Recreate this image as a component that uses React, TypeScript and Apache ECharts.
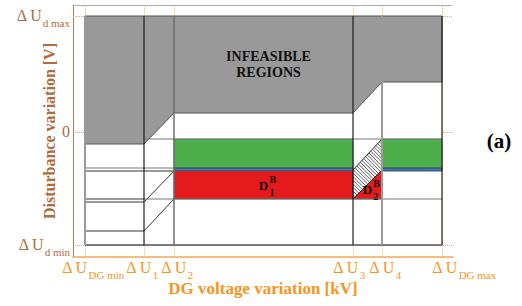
import React, { useEffect, useRef } from 'react';
import * as echarts from 'echarts';

// ---- data (axis units) ----
const xBreaks = [12, 71, 101, 280, 309, 369]; // ΔU_DGmin, ΔU1, ΔU2, ΔU3, ΔU4, ΔU_DGmax
const xBreakSubs = ['DG min', '1', '2', '3', '4', 'DG max'];
const yTicks = [-113, 0, 116]; // ΔU_dmin, 0, ΔU_dmax
const yTickSubs = ['d min', '', 'd max'];
const xExtent = [0, 380];
const yExtent = [-125, 127];

const infeasible = [[12, 116], [369, 116], [369, 50], [309, 50], [280, 19], [101, 19], [71, -12], [12, -12]];
const greenBands = [
  [[101, -7], [280, -7], [280, -36], [101, -36]],
  [[309, -7], [369, -7], [369, -36], [309, -36]],
];
const blueBands = [
  [[101, -36], [280, -36], [280, -39], [101, -39]],
  [[309, -36], [369, -36], [369, -39], [309, -39]],
];
const redD1 = [[101, -39], [280, -39], [280, -67], [101, -67]];
const redD2 = [[280, -67], [309, -38], [309, -67]];
const hatched = [[280, -38], [309, -7], [309, -38], [280, -67]];

const darkSegments = [
  [[12, -39], [101, -39]],
  [[12, -70], [71, -70]],
  [[12, -99], [71, -99]],
  [[71, -70], [101, -39]],
  [[71, -99], [101, -67]],
  [[12, -67], [71, -67]],
];
const midSegments = [
  [[12, -36], [101, -36]],
  [[71, -67], [369, -67]],
  [[71, -7], [369, -7]],
];

// ---- styles ----
const SERIF = '"Liberation Serif", "Times New Roman", serif';
const BROWN = '#b06a3b';
const ORANGE = '#f7941d';
const xLabelShift = [8, -2, 3, -4, 3, 22];
const vLineStyle = [
  { stroke: '#9a9a9a', lineWidth: 2 },
  { stroke: '#1e1e1e', lineWidth: 1.2 },
  { stroke: '#6e6e6e', lineWidth: 1.5 },
  { stroke: '#1e1e1e', lineWidth: 1.2 },
  { stroke: '#9a9a9a', lineWidth: 2 },
  { stroke: '#1e1e1e', lineWidth: 1.2 },
];

function renderShapes(_params: any, api: any) {
  const toPx = (pts: number[][]) => pts.map((p) => api.coord(p));
  const children: any[] = [];
  const poly = (pts: number[][], style: any) =>
    children.push({ type: 'polygon', shape: { points: toPx(pts) }, style });
  const seg = (pts: number[][], stroke: string, lineWidth: number) =>
    children.push({ type: 'polyline', shape: { points: toPx(pts) }, style: { stroke, lineWidth, fill: null } });

  const x0 = xBreaks[0], x1 = xBreaks[xBreaks.length - 1];
  const yb = yTicks[0], yt = yTicks[yTicks.length - 1];
  poly([[x0, yt], [x1, yt], [x1, yb], [x0, yb]], { fill: '#ffffff' });
  poly(infeasible, { fill: '#999999', stroke: '#555555', lineWidth: 1 });
  greenBands.forEach((b) => poly(b, { fill: '#4daf4a', stroke: '#7a7a7a', lineWidth: 0.8 }));
  blueBands.forEach((b) => poly(b, { fill: '#377eb8', stroke: '#2a3442', lineWidth: 0.8 }));
  poly(redD1, { fill: '#e41a1c', stroke: '#555555', lineWidth: 0.8 });
  poly(redD2, { fill: '#e41a1c', stroke: '#555555', lineWidth: 0.8 });
  poly(hatched, { fill: '#ffffff', stroke: '#222222', lineWidth: 1 });

  // hatch lines "\" clipped to the hatched polygon
  const hp = toPx(hatched);
  const cs = hp.map((p: number[]) => p[1] - p[0]);
  const cMin = Math.min(...cs), cMax = Math.max(...cs);
  for (let c = cMin + 1.8; c < cMax; c += 3.6) {
    const hits: number[][] = [];
    for (let k = 0; k < hp.length; k++) {
      const a = hp[k], b = hp[(k + 1) % hp.length];
      const fa = a[1] - a[0] - c, fb = b[1] - b[0] - c;
      if ((fa <= 0 && fb > 0) || (fa > 0 && fb <= 0)) {
        const t = fa / (fa - fb);
        hits.push([a[0] + t * (b[0] - a[0]), a[1] + t * (b[1] - a[1])]);
      }
    }
    if (hits.length >= 2) {
      hits.sort((p, q) => p[0] - q[0]);
      const h0 = hits[0], h1 = hits[hits.length - 1];
      children.push({ type: 'line', shape: { x1: h0[0], y1: h0[1], x2: h1[0], y2: h1[1] }, style: { stroke: '#333', lineWidth: 0.8 } });
    }
  }

  darkSegments.forEach((s) => seg(s, '#333333', 1));
  midSegments.forEach((s) => seg(s, '#777777', 1));
  seg([[x0, yb], [x1, yb]], '#555555', 1.3);
  xBreaks.forEach((x, i) => seg([[x, yb], [x, yt]], vLineStyle[i].stroke, vLineStyle[i].lineWidth));

  return { type: 'group', children };
}

function renderTexts(_params: any, api: any) {
  const children: any[] = [];
  const c = api.coord([(xBreaks[2] + xBreaks[3]) / 2, (infeasible[5][1] + yTicks[2]) / 2]);
  children.push({
    type: 'text', x: c[0] + 5, y: c[1],
    style: { text: 'INFEASIBLE\nREGIONS', align: 'center', verticalAlign: 'middle', lineHeight: 16,
      font: `bold 14px ${SERIF}`, fill: '#111' },
  });
  const centroid = (pts: number[][]) => [
    pts.reduce((s, p) => s + p[0], 0) / pts.length,
    pts.reduce((s, p) => s + p[1], 0) / pts.length,
  ];
  const dLabel = (pts: number[][], sub: string, dx: number) => {
    const p = api.coord(centroid(pts));
    const x = p[0] + dx, y = p[1];
    children.push({ type: 'text', x, y, style: { text: 'D', align: 'center', verticalAlign: 'middle', font: `bold 13px ${SERIF}`, fill: '#111' } });
    children.push({ type: 'text', x: x + 6, y: y - 6, style: { text: 'B', align: 'left', verticalAlign: 'middle', font: `bold 10px ${SERIF}`, fill: '#111' } });
    children.push({ type: 'text', x: x + 6, y: y + 7, style: { text: sub, align: 'left', verticalAlign: 'middle', font: `bold 10px ${SERIF}`, fill: '#111' } });
  };
  dLabel(redD1, '1', 0);
  dLabel(redD2, '2', -5);
  return { type: 'group', children };
}

const xRich: any = {
  u: { fontFamily: SERIF, fontSize: 16, lineHeight: 18, verticalAlign: 'top', color: ORANGE },
  s: { fontFamily: SERIF, fontSize: 11, lineHeight: 13, padding: [10, 0, 0, 1], verticalAlign: 'top', color: ORANGE },
};
xLabelShift.forEach((sh, i) => {
  xRich['l' + i] = { width: Math.max(0, 2 * sh), fontSize: 1 };
  xRich['r' + i] = { width: Math.max(0, -2 * sh), fontSize: 1 };
});
const yRich: any = {
  u: { fontFamily: SERIF, fontSize: 16, lineHeight: 18, verticalAlign: 'top', color: BROWN },
  s: { fontFamily: SERIF, fontSize: 11, lineHeight: 13, padding: [10, 0, 0, 1], verticalAlign: 'top', color: BROWN },
};

export default function App() {
  const ref = useRef<HTMLDivElement>(null);
  useEffect(() => {
    if (!ref.current) return;
    const chart = echarts.init(ref.current, null, { renderer: 'svg' });
    chart.setOption({
      animation: false,
      backgroundColor: '#ffffff',
      grid: { left: 73, right: 69, top: 5, bottom: 49, containLabel: false, outerBoundsMode: 'none' },
      xAxis: [
        {
          type: 'value', min: xExtent[0], max: xExtent[1], position: 'bottom',
          axisLine: { show: true, onZero: false, lineStyle: { color: '#f8a550', width: 1.5 } },
          axisTick: { show: false }, splitLine: { show: false },
          axisLabel: {
            customValues: xBreaks, margin: 2, color: ORANGE, rich: xRich, hideOverlap: false,
            showMinLabel: true, showMaxLabel: true,
            formatter: (v: number) => {
              const i = xBreaks.indexOf(v);
              if (i < 0) return '';
              const sh = xLabelShift[i];
              const l = sh > 0 ? `{l${i}| }` : '';
              const r = sh < 0 ? `{r${i}| }` : '';
              return `${l}{u|Δ U}{s|${xBreakSubs[i]}}${r}`;
            },
          },
          name: 'DG voltage variation [kV]', nameLocation: 'middle', nameGap: 23, nameMoveOverlap: false,
          nameTextStyle: { color: ORANGE, fontFamily: SERIF, fontWeight: 'bold', fontSize: 17, verticalAlign: 'top' },
        },
        {
          type: 'value', min: xExtent[0], max: xExtent[1], position: 'top',
          axisLine: { show: true, onZero: false, lineStyle: { color: '#9a9a9a', type: 'dotted', width: 1 } },
          axisTick: { show: false }, axisLabel: { show: false }, splitLine: { show: false },
        },
      ],
      yAxis: {
        type: 'value', min: yExtent[0], max: yExtent[1],
        axisLine: { show: true, onZero: false, lineStyle: { color: '#b87a4b', width: 1 } },
        axisTick: { show: false }, splitLine: { show: false },
        axisLabel: {
          customValues: yTicks, margin: 3, color: BROWN, rich: yRich, hideOverlap: false,
          showMinLabel: true, showMaxLabel: true,
          formatter: (v: number) => {
            const i = yTicks.indexOf(v);
            if (i < 0) return '';
            return yTickSubs[i] ? `{u|Δ U}{s|${yTickSubs[i]}}` : `{u|${v}}`;
          },
        },
        name: 'Disturbance variation [V]', nameLocation: 'middle', nameGap: 16, nameRotate: 90, nameMoveOverlap: false,
        nameTextStyle: { color: BROWN, fontFamily: SERIF, fontWeight: 'bold', fontSize: 16 },
      },
      graphic: [
        { type: 'text', x: 499, y: 141, style: { text: '(a)', align: 'center', verticalAlign: 'middle', font: `bold 21px ${SERIF}`, fill: '#000' } },
      ],
      series: [
        {
          type: 'line', data: [], z: 1, silent: true,
          markLine: {
            z: 1, silent: true, symbol: 'none', label: { show: false },
            data: [
              ...xBreaks.map((x) => ({ xAxis: x, lineStyle: { color: '#f6b877', type: 'dotted', width: 1 } })),
              ...yTicks.map((y) => ({ yAxis: y, lineStyle: { color: '#d6a88a', type: 'dotted', width: 1 } })),
            ],
          },
        },
        { type: 'custom', z: 3, clip: false, silent: true, data: [[0, 0]], renderItem: renderShapes },
        { type: 'custom', z: 4, clip: false, silent: true, data: [[0, 0]], renderItem: renderTexts },
      ],
    });
    return () => chart.dispose();
  }, []);
  return <div ref={ref} style={{ position: 'fixed', left: 0, top: 0, width: 522, height: 306 }} />;
}
